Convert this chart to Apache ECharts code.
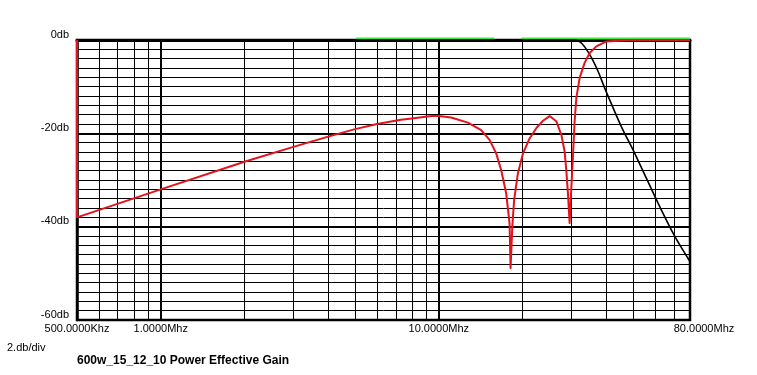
<!DOCTYPE html>
<html><head><meta charset="utf-8">
<script src="https://cdn.jsdelivr.net/npm/echarts@6/dist/echarts.min.js"></script>
<style>html,body{margin:0;padding:0;background:#fff}#c{width:757px;height:375px}</style>
</head><body><div id="c"></div>
<script>
// Frequencies in MHz, gains in dB
const xTickValues = [0.5, 1, 10, 80];
const xTickLabels = ['500.0000Khz', '1.0000Mhz', '10.0000Mhz', '80.0000Mhz'];
const yTickValues = [0, -20, -40, -60];
const yTickLabels = ['0db', '-20db', '-40db', '-60db'];
const minorFreqs = [0.6, 0.7, 0.8, 0.9, 2, 3, 4, 5, 6, 7, 8, 9, 20, 30, 40, 50, 60, 70];
const majorGains = [-20, -40];
const scaleNote = '2.db/div';
const chartTitle = '600w_15_12_10 Power Effective Gain';

const redFreq = [0.5, 0.5, 1, 2, 3, 4, 5, 6, 7.3, 8, 9.4, 10, 11.07, 12.72, 14.2, 15.22, 16.08, 16.76, 17.47, 17.96, 18.11, 18.37, 18.65, 19.24, 20.07, 21.2, 22.4, 23.69, 25.02, 26.45, 27.57, 28.34, 28.74, 29.14, 29.53, 29.95, 30.37, 30.78, 31.22, 32.09, 33.44, 34.85, 36.85, 40.04, 49.26, 80];
const redGain = [0, -38.0, -32.0, -26.1, -22.9, -20.7, -19.1, -18.0, -17.1, -16.8, -16.3, -16.3, -16.6, -17.7, -19.3, -21.4, -24.3, -27.9, -32.9, -39.3, -48.9, -40.0, -34.3, -28.6, -24.3, -21.1, -18.9, -17.3, -16.3, -17.4, -20.3, -23.9, -28.1, -33.1, -39.2, -31.7, -24.6, -17.4, -12.4, -8.1, -4.9, -2.8, -1.36, -0.3, 0, 0];

const blackFreq = [0.5, 29.5, 30.78, 32.54, 34.85, 37.36, 39.48, 45.35, 50.63, 61.46, 70.55, 80];
const blackGain = [0, 0, 0, -0.64, -3.1, -6.7, -10.3, -18.6, -24.3, -35.0, -42.1, -47.5];

const greenFreq = [5.04, 15.8, 17.5, 19.8, 80];
const greenGain = [0.3, 0.3, null, 0.3, 0.3];

const zip = (a, b) => a.map((v, i) => [v, b[i]]);
const FONT = 'Liberation Sans';

const chart = echarts.init(document.getElementById('c'), null, { renderer: 'canvas' });
chart.setOption({
  animation: false,
  backgroundColor: '#ffffff',
  title: [
    { text: scaleNote, left: 7, top: 342, padding: 0, textStyle: { fontFamily: FONT, fontSize: 11, fontWeight: 'normal', color: '#000' } },
    { text: chartTitle, left: 77, top: 355, padding: 0, textStyle: { fontFamily: FONT, fontSize: 12, fontWeight: 'bold', color: '#000' } }
  ],
  grid: { left: 77, top: 40, width: 613, height: 280, show: true, borderColor: '#000', borderWidth: 2.5, backgroundColor: '#fff' },
  xAxis: {
    type: 'log', logBase: 10, min: 0.5, max: 80,
    axisLine: { show: true, lineStyle: { color: '#000', width: 3 } },
    axisTick: { show: false },
    splitLine: { show: true, lineStyle: { color: '#000', width: 2 } },
    minorTick: { show: false }, minorSplitLine: { show: false },
    axisLabel: {
      show: true, showMinLabel: true, showMaxLabel: true, margin: 3,
      fontFamily: FONT, fontSize: 11, color: '#000',
      formatter: function (v) {
        const i = xTickValues.findIndex(t => Math.abs(Math.log10(v) - Math.log10(t)) < 1e-6);
        if (i < 0) return '';
        return i === xTickValues.length - 1 ? '{r|' + xTickLabels[i] + '}' : xTickLabels[i];
      },
      rich: { r: { fontFamily: FONT, fontSize: 11, color: '#000', padding: [0, 0, 0, 28] } }
    }
  },
  yAxis: {
    type: 'value', min: -60, max: 0, interval: 2,
    axisLine: { show: true, lineStyle: { color: '#000', width: 2.5 } },
    axisTick: { show: false },
    splitLine: { show: true, lineStyle: { color: '#000', width: 1 } },
    axisLabel: {
      show: true, margin: 8, verticalAlign: 'bottom',
      fontFamily: FONT, fontSize: 11, color: '#000',
      formatter: function (v) {
        const i = yTickValues.findIndex(t => Math.abs(t - v) < 1e-6);
        return i < 0 ? '' : yTickLabels[i];
      }
    }
  },
  series: [
    {
      type: 'line', data: [], z: 1, silent: true,
      markLine: {
        silent: true, symbol: ['none', 'none'], animation: false,
        label: { show: false },
        data: minorFreqs.map(f => ({ xAxis: f, lineStyle: { color: '#000', width: 1, type: 'solid' } }))
          .concat(majorGains.map(g => ({ yAxis: g, lineStyle: { color: '#000', width: 2.2, type: 'solid' } })))
      }
    },
    {
      type: 'line', data: zip(greenFreq, greenGain), z: 3, showSymbol: false, clip: false,
      lineStyle: { color: '#3ee63e', width: 2 }, connectNulls: false
    },
    {
      type: 'line', data: zip(blackFreq, blackGain), z: 4, showSymbol: false,
      smooth: 0.25,
      lineStyle: { color: '#000', width: 1.6 }
    },
    {
      type: 'line', data: zip(redFreq, redGain), z: 5, showSymbol: false,
      lineStyle: { color: '#e4121c', width: 2, join: 'round' }
    }
  ]
});
</script>
</body></html>
